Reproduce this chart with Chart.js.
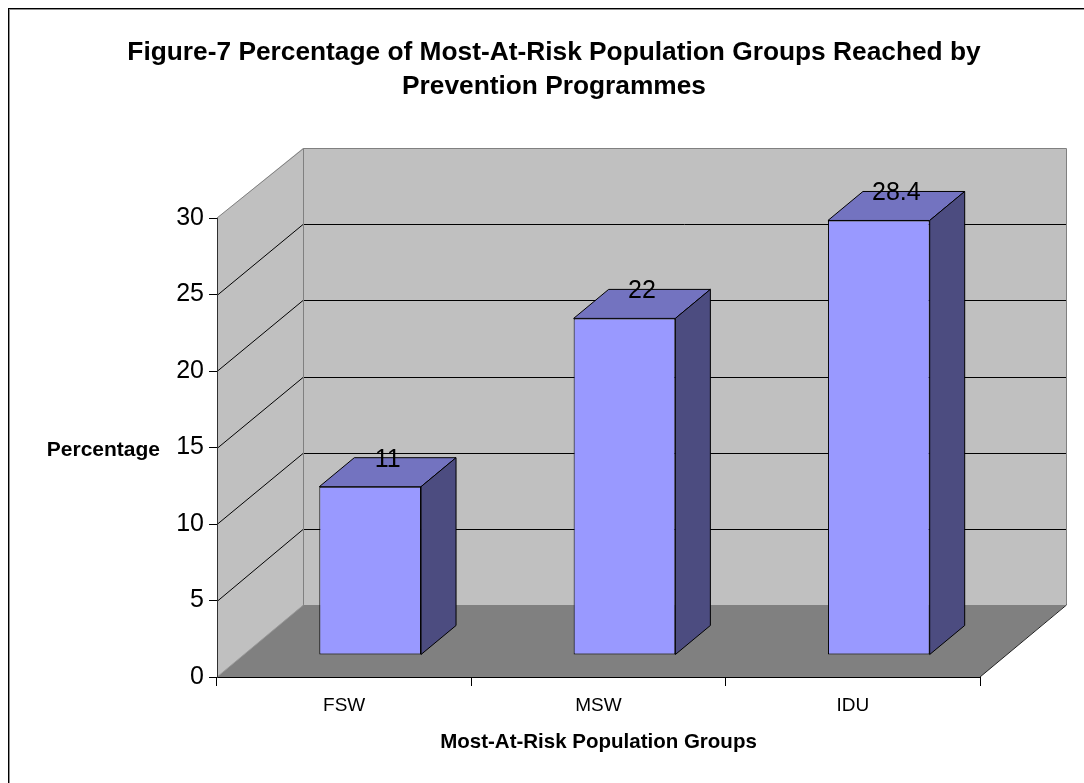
<!DOCTYPE html>
<html>
<head>
<meta charset="utf-8">
<script src="https://cdn.jsdelivr.net/npm/chart.js@4.4.1/dist/chart.umd.min.js"></script>
<style>
  html, body { margin: 0; padding: 0; background: #ffffff; }
  canvas { display: block; }
</style>
</head>
<body>
<canvas id="chart" width="1084" height="783"></canvas>
<script>
// ---- data ----
const categories = ['FSW', 'MSW', 'IDU'];
const percentages = [11, 22, 28.4];
const titleLines = ['Figure-7 Percentage of Most-At-Risk Population Groups Reached by', 'Prevention Programmes'];
const xAxisTitle = 'Most-At-Risk Population Groups';
const yAxisTitle = 'Percentage';

// ---- styling ----
const FONT = '"Liberation Sans", Arial, Helvetica, sans-serif';
const WALL_COLOR = '#C0C0C0';
const FLOOR_COLOR = '#808080';
const EDGE_COLOR = '#808080';
const BAR_FRONT = '#9999FF';
const BAR_TOP = '#7373C0';
const BAR_SIDE = '#4C4C80';

// 3D projection: back wall offset from the front axis plane
const WALL_DX = 86, WALL_DY_BOTTOM = -72, WALL_DY_TOP = -70;
// bar front plane offset and bar depth
const BAR_OX = 26, BAR_OY = -22;
const BAR_DX = 35, BAR_DY = -29;

function backY(scale, v) {
  const t = (v - scale.min) / (scale.max - scale.min);
  return scale.getPixelForValue(v) + WALL_DY_BOTTOM + t * (WALL_DY_TOP - WALL_DY_BOTTOM);
}

function line(ctx, x1, y1, x2, y2, color, w) {
  ctx.beginPath();
  ctx.moveTo(x1, y1);
  ctx.lineTo(x2, y2);
  ctx.strokeStyle = color;
  ctx.lineWidth = w || 1;
  ctx.stroke();
}

function poly(ctx, pts, fill, stroke) {
  ctx.beginPath();
  ctx.moveTo(pts[0][0], pts[0][1]);
  for (let i = 1; i < pts.length; i++) ctx.lineTo(pts[i][0], pts[i][1]);
  ctx.closePath();
  if (fill) { ctx.fillStyle = fill; ctx.fill(); }
  if (stroke) { ctx.strokeStyle = stroke; ctx.lineWidth = 1; ctx.stroke(); }
}

const threeD = {
  id: 'threeD',
  beforeDraw(chart) {
    const ctx = chart.ctx;
    const y = chart.scales.y;
    const L = chart.chartArea.left, R = chart.chartArea.right;
    const y0 = y.getPixelForValue(y.min), yTop = y.getPixelForValue(y.max);
    const b0 = backY(y, y.min), bTop = backY(y, y.max);
    ctx.save();
    ctx.fillStyle = '#ffffff';
    ctx.fillRect(0, 0, chart.width, chart.height);

    // frame
    ctx.strokeStyle = '#000000';
    ctx.lineWidth = 1;
    ctx.strokeRect(8.5, 8.5, chart.width + 20, chart.height + 20);
    ctx.strokeStyle = '#909090';
    ctx.strokeRect(9.5, 9.5, chart.width + 20, chart.height + 20);

    // title
    ctx.fillStyle = '#000000';
    ctx.font = 'bold 26.3px ' + FONT;
    ctx.textAlign = 'center';
    ctx.textBaseline = 'middle';
    ctx.fillText(titleLines[0], 554, 53);
    ctx.fillText(titleLines[1], 554, 87);

    // walls and floor
    poly(ctx, [[L, yTop], [L + WALL_DX, bTop], [L + WALL_DX, b0], [L, y0]], WALL_COLOR);
    poly(ctx, [[L + WALL_DX, bTop], [R + WALL_DX, bTop], [R + WALL_DX, b0], [L + WALL_DX, b0]], WALL_COLOR);
    poly(ctx, [[L, y0], [L + WALL_DX, b0], [R + WALL_DX, b0], [R, y0]], FLOOR_COLOR);

    // gridlines on the side and back walls
    y.ticks.forEach(t => {
      if (t.value <= y.min || t.value >= y.max) return;
      const fy = Math.round(y.getPixelForValue(t.value)) + 0.5;
      const by = Math.round(backY(y, t.value)) + 0.5;
      line(ctx, L, fy, L + WALL_DX, by, '#000000');
      line(ctx, L + WALL_DX, by, R + WALL_DX, by, '#000000');
    });

    // wall edges
    const bx = Math.round(L + WALL_DX) + 0.5, rx = Math.round(R + WALL_DX) + 0.5;
    const bt = Math.round(bTop) + 0.5;
    line(ctx, L, yTop, bx, bt, EDGE_COLOR);
    line(ctx, bx, bt, rx, bt, EDGE_COLOR);
    line(ctx, bx, bt, bx, b0, EDGE_COLOR);
    line(ctx, rx, bt, rx, b0, EDGE_COLOR);
    line(ctx, L, y0, bx, b0, '#9a9a9a');
    line(ctx, R, y0, rx, b0, '#202020');

    // axis titles
    ctx.fillStyle = '#000000';
    ctx.font = 'bold 21px ' + FONT;
    ctx.textAlign = 'right';
    ctx.fillText(yAxisTitle, 160, 450);
    ctx.font = 'bold 20.5px ' + FONT;
    ctx.textAlign = 'center';
    ctx.fillText(xAxisTitle, (L + R) / 2, 742);
    ctx.restore();
  },
  beforeDatasetsDraw(chart) {
    chart.ctx.save();
    chart.ctx.translate(BAR_OX, BAR_OY);
  },
  afterDatasetsDraw(chart) {
    const ctx = chart.ctx;
    ctx.restore();
    ctx.save();
    const meta = chart.getDatasetMeta(0);
    meta.data.forEach((bar, i) => {
      const p = bar.getProps(['x', 'y', 'base', 'width'], true);
      const l = p.x - p.width / 2 + BAR_OX, r = p.x + p.width / 2 + BAR_OX;
      const t = p.y + BAR_OY, b = p.base + BAR_OY;
      poly(ctx, [[l, t], [r, t], [r + BAR_DX, t + BAR_DY], [l + BAR_DX, t + BAR_DY]], BAR_TOP, '#000000');
      poly(ctx, [[r, t], [r + BAR_DX, t + BAR_DY], [r + BAR_DX, b + BAR_DY], [r, b]], BAR_SIDE, '#000000');
      ctx.fillStyle = '#000000';
      ctx.font = '25px ' + FONT;
      ctx.textAlign = 'center';
      ctx.textBaseline = 'middle';
      ctx.fillText(String(percentages[i]), p.x + BAR_OX + BAR_DX / 2, t - 27);
    });
    ctx.restore();
  }
};

new Chart(document.getElementById('chart'), {
  type: 'bar',
  data: {
    labels: categories,
    datasets: [{
      data: percentages,
      backgroundColor: BAR_FRONT,
      borderColor: '#000000',
      borderWidth: 1,
      borderSkipped: false,
      barPercentage: 0.4,
      categoryPercentage: 1.0,
      clip: false
    }]
  },
  options: {
    responsive: false,
    animation: false,
    devicePixelRatio: 1,
    layout: { padding: { left: 0, top: 218, right: 104, bottom: 0 } },
    plugins: {
      legend: { display: false },
      tooltip: { enabled: false },
      title: { display: false }
    },
    scales: {
      x: {
        offset: true,
        grid: { drawOnChartArea: false, tickLength: 9, color: '#000000', offset: true },
        border: { color: '#000000', width: 1 },
        ticks: { font: { family: FONT, size: 19 }, color: '#000000', padding: 8 },
        afterFit: s => { s.height = 106; }
      },
      y: {
        min: 0,
        max: 30,
        ticks: { stepSize: 5, font: { family: FONT, size: 25 }, color: '#000000', padding: 5 },
        grid: { drawOnChartArea: false, tickLength: 8, color: '#000000' },
        border: { color: '#303030', width: 1 },
        afterFit: s => { s.width = 217; }
      }
    }
  },
  plugins: [threeD]
});
</script>
</body>
</html>
